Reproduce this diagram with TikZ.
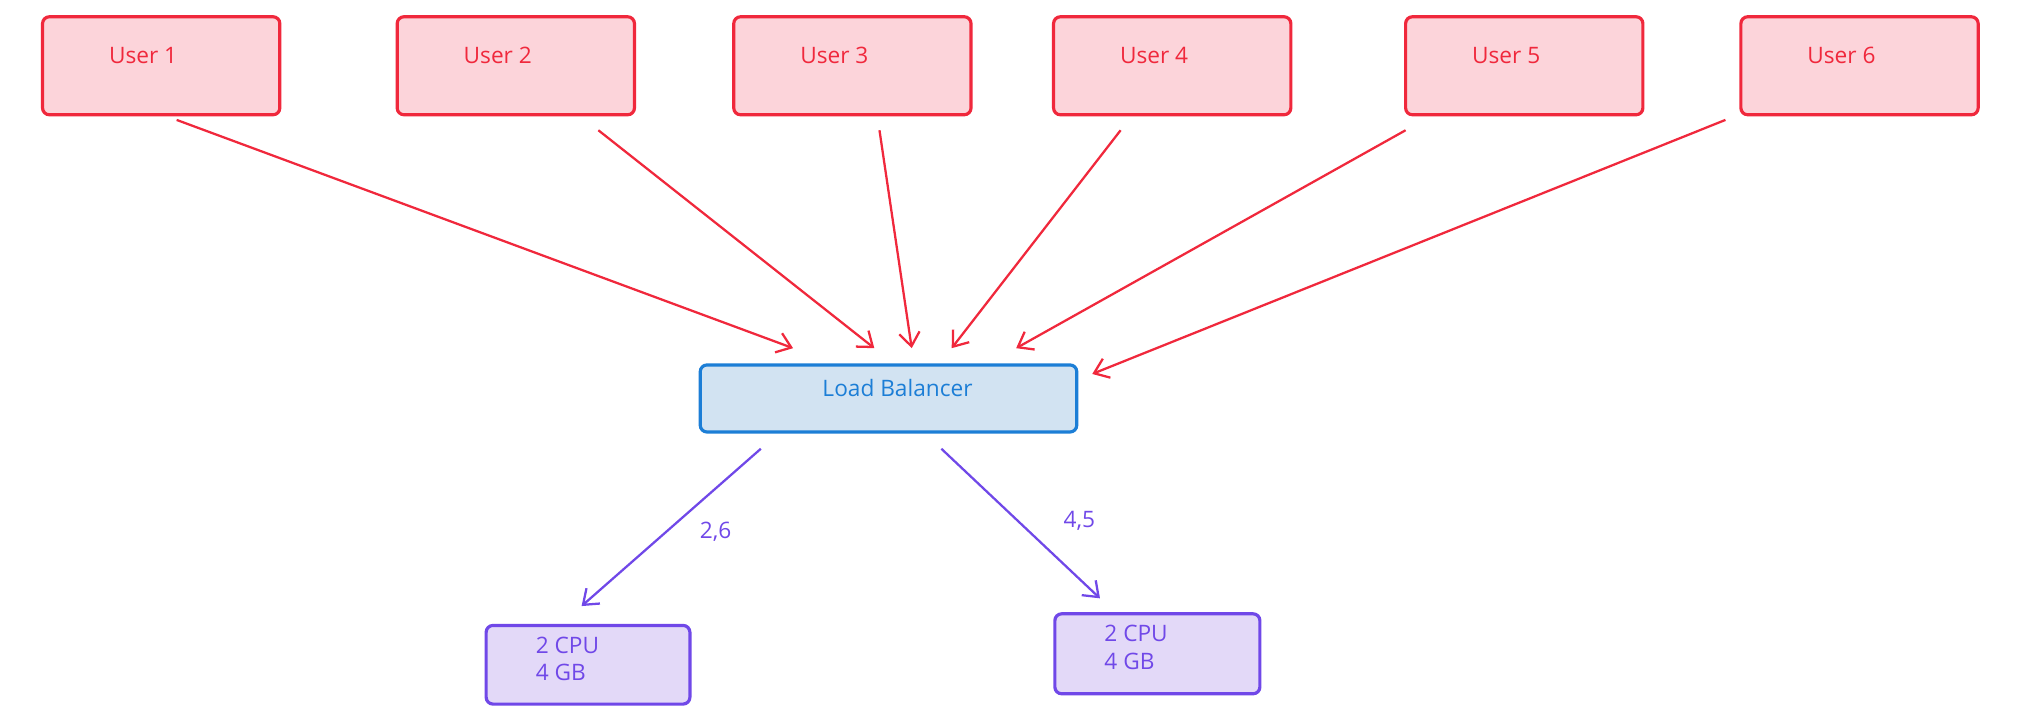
\documentclass[tikz,border=0pt]{standalone}
\usetikzlibrary{arrows.meta}
\usepackage{fontspec}
\setmainfont{Open Sans}
\definecolor{ured}{HTML}{F0283C}
\definecolor{ufill}{HTML}{FCD4DA}
\definecolor{lblue}{HTML}{1C7ED6}
\definecolor{lfill}{HTML}{D2E3F2}
\definecolor{spur}{HTML}{7048E8}
\definecolor{sfill}{HTML}{E3D9F8}
\begin{document}
\begin{tikzpicture}[x=0.02cm,y=-0.02cm,
  box/.style={draw,line width=1.4pt,rounded corners=3pt,inner sep=0pt},
  lbl/.style={font=\fontsize{10}{12}\selectfont,inner sep=0pt},
  uarr/.style={ured,line width=1pt,-{Straight Barb[length=6pt,width=9pt]}},
  parr/.style={spur,line width=1pt,-{Straight Barb[length=6pt,width=9pt]}}]
\useasboundingbox (0,0) rectangle (1568,557);
\foreach \i/\a in {1/33,2/308,3/569,4/817,5/1090,6/1350}{
  \draw[box,ured,fill=ufill] (\a,13) rectangle ++(184,76);
  \node[lbl,ured] (u\i) at (\a+78,43) {User \i};
}
\draw[box,lblue,fill=lfill] (543,283) rectangle (835,335);
\node[lbl,lblue] (lb) at (696,301) {Load Balancer};
\draw[box,spur,fill=sfill] (377,485) rectangle (535,546);
\node[lbl,spur,align=left] (s1) at (440,511) {2 CPU\\4 GB};
\draw[box,spur,fill=sfill] (818,476) rectangle (977,538);
\node[lbl,spur,align=left] (s2) at (881,502) {2 CPU\\4 GB};
\foreach \n/\x/\y/\X/\Y in {1/137/93/615/270, 2/464/101/678/270, 3/682/101/707/270, 4/869/101/738/270, 5/1090/101/788/270, 6/1338/93/847/290}{
  \coordinate (a\n) at (\x,\y); \coordinate (b\n) at (\X,\Y);
  \draw[uarr] (a\n) -- (b\n);
}
\coordinate (p1) at (590,348); \coordinate (q1) at (451,470);
\coordinate (p2) at (730,348); \coordinate (q2) at (853,464);
\draw[parr] (p1) -- (q1);
\draw[parr] (p2) -- (q2);
\node[lbl,spur] (l1) at (555,412) {2,6};
\node[lbl,spur] (l2) at (837,404) {4,5};
\end{tikzpicture}
\end{document}
